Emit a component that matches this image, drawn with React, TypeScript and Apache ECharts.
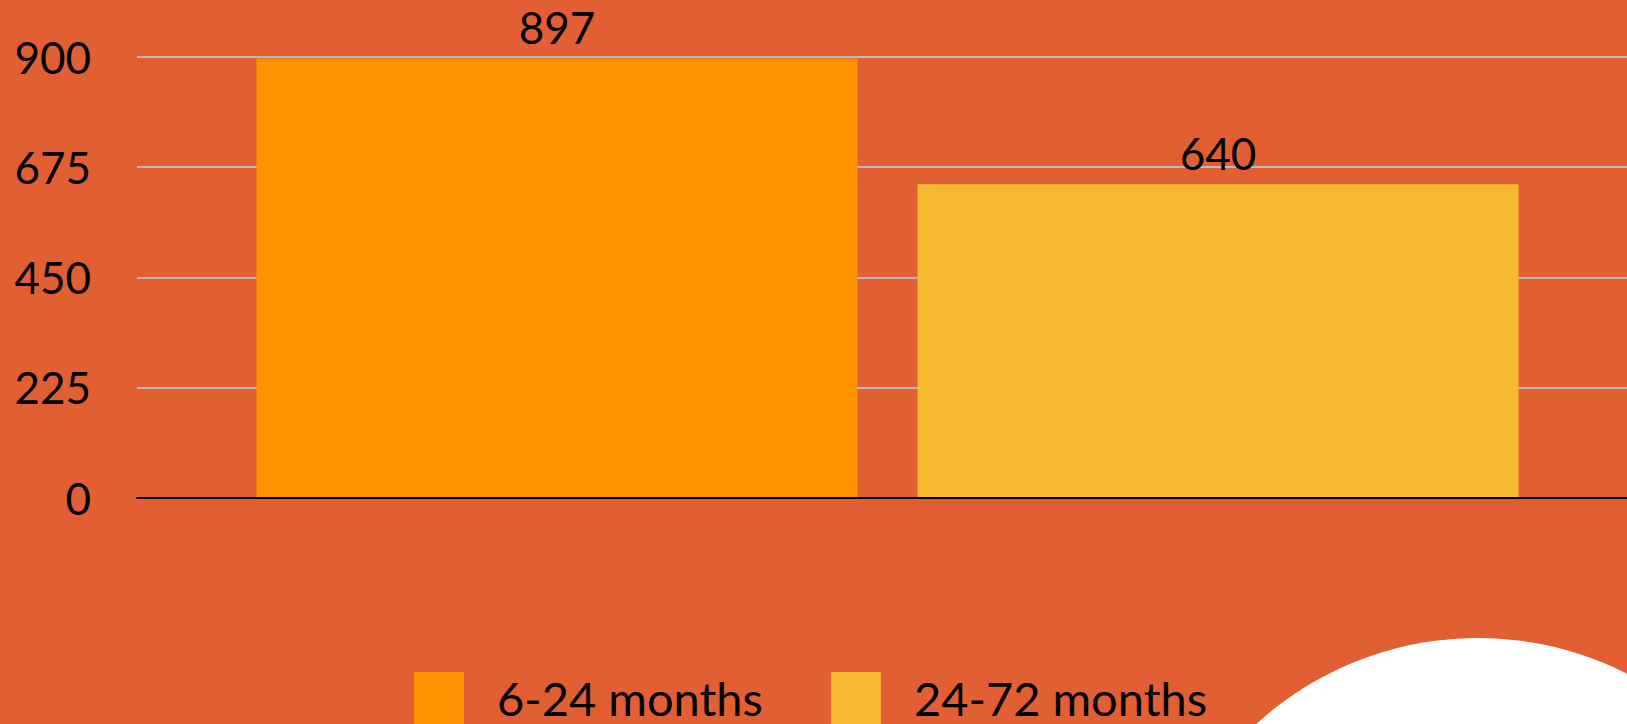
import React, { useEffect, useRef } from "react";
import * as echarts from "echarts";

const categories = [""];
const seriesNames = ["6-24 months", "24-72 months"];
const seriesValues = [[897], [640]];
const seriesColors = ["#FF9400", "#F6B932"];
const yTicks = { min: 0, max: 900, interval: 225 };

export default function App() {
  const ref = useRef<HTMLDivElement>(null);
  useEffect(() => {
    if (!ref.current) return;
    const chart = echarts.init(ref.current, null, { renderer: "svg" });
    const font = "Lato";
    chart.setOption({
      animation: false,
      backgroundColor: "#E15F32",
      textStyle: { fontFamily: font },
      grid: [
        { left: 137, top: 57, right: 0, height: 440.5, containLabel: false },
        { left: 148, top: 57, right: 0, height: 440.5, containLabel: false },
      ],
      legend: {
        left: 414,
        top: 672,
        padding: 0,
        itemWidth: 50,
        itemHeight: 52,
        itemGap: 68,
        icon: "rect",
        data: seriesNames,
        textStyle: {
          fontSize: 47,
          lineHeight: 44,
          color: "#000",
          fontFamily: font,
          padding: [0, 0, 0, 28],
        },
      },
      xAxis: [
        {
          type: "category",
          gridIndex: 0,
          data: categories,
          axisLine: { show: true, lineStyle: { color: "#000", width: 2 } },
          axisTick: { show: false },
          axisLabel: { show: false },
          z: 5,
        },
        {
          type: "category",
          gridIndex: 1,
          data: categories,
          axisLine: { show: false },
          axisTick: { show: false },
          axisLabel: { show: false },
        },
      ],
      yAxis: [
        {
          type: "value",
          gridIndex: 0,
          min: yTicks.min,
          max: yTicks.max,
          interval: yTicks.interval,
          axisLine: { show: false },
          axisTick: { show: false },
          axisLabel: { fontSize: 44, color: "#000", margin: 46, fontFamily: font },
          splitLine: { lineStyle: { color: "#BABABA", width: 2 } },
        },
        {
          type: "value",
          gridIndex: 1,
          min: yTicks.min,
          max: yTicks.max,
          interval: yTicks.interval,
          show: false,
          splitLine: { show: false },
        },
      ],
      series: seriesNames.map((name, i) => ({
        name,
        type: "bar",
        xAxisIndex: 1,
        yAxisIndex: 1,
        data: seriesValues[i],
        barWidth: 601,
        barGap: "10%",
        itemStyle: { color: seriesColors[i] },
        label: {
          show: true,
          position: "top",
          distance: 9,
          fontSize: 44,
          color: "#000",
          fontFamily: font,
        },
      })),
      graphic: [
        {
          type: "circle",
          shape: { cx: 1478, cy: 967, r: 329 },
          style: { fill: "#FFFFFF" },
          z: 0,
        },
      ],
    });
    return () => chart.dispose();
  }, []);
  return (
    <div
      ref={ref}
      style={{ position: "fixed", left: 0, top: 0, width: 1627, height: 724 }}
    />
  );
}
